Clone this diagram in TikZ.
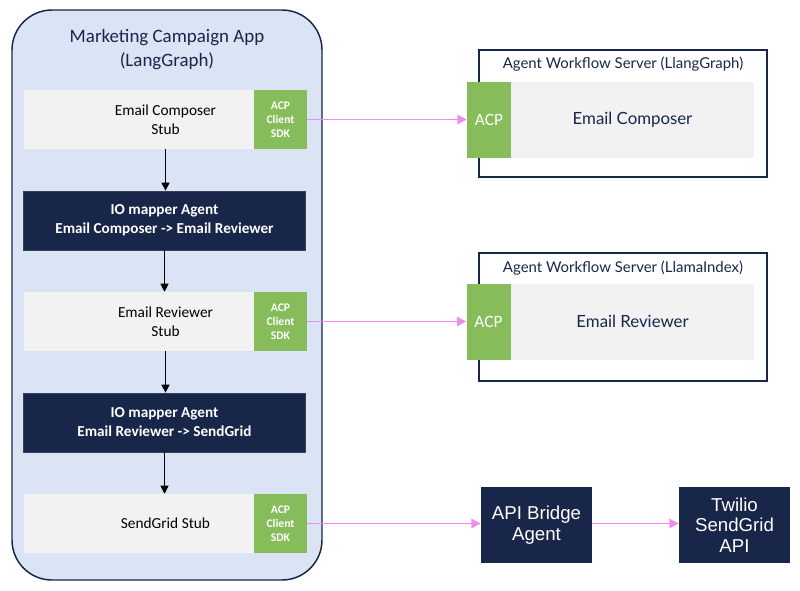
\documentclass[tikz,border=0pt]{standalone}
\usepackage{fontspec}
\setmainfont{Carlito}
\newfontfamily\latofont{Lato}
\newfontfamily\helvfont{Liberation Sans}
\usetikzlibrary{arrows.meta}
\definecolor{navy}{RGB}{24,38,74}
\definecolor{appbg}{RGB}{219,228,245}
\definecolor{acpgreen}{RGB}{134,188,90}
\definecolor{stubgray}{RGB}{242,242,242}
\definecolor{linkpink}{RGB}{240,140,240}
\tikzset{
  stub/.style={fill=stubgray,inner sep=0,minimum width=212.25pt,minimum height=44.25pt,align=center,font=\fontsize{11.5}{14.25}\selectfont},
  sdk/.style={fill=acpgreen,inner sep=0,minimum width=39.75pt,minimum height=44.25pt,align=center,text=white,font=\fontsize{8.75}{10.5}\selectfont\bfseries},
  mapper/.style={fill=navy,draw=navy!70!gray,line width=0.5pt,inner sep=0,minimum width=211.5pt,minimum height=44.25pt,align=center,text=white,font=\fontsize{11.4}{14.25}\selectfont\bfseries},
  acp/.style={fill=acpgreen,inner sep=0,minimum width=33pt,minimum height=57pt,text=white,font=\fontsize{13}{15}\selectfont},
  agent/.style={fill=stubgray,inner sep=0,minimum width=182.25pt,minimum height=57pt,text=navy,font=\latofont\fontsize{12.6}{15}\selectfont},
  api/.style={fill=navy,inner sep=0,minimum width=83.25pt,minimum height=57pt,align=center,text=white,font=\helvfont\fontsize{14}{15.5}\selectfont},
  flow/.style={-{Triangle[length=6pt,width=6pt]},black,line width=0.5pt},
  link/.style={-{Triangle[length=7pt,width=7pt]},linkpink,line width=1.1pt}
}
\begin{document}
\begin{tikzpicture}[x=0.75pt,y=-0.75pt]
\useasboundingbox (0,0) rectangle (800,590);
% app container
\draw[fill=appbg,draw=navy,line width=1.1pt,rounded corners=30pt] (12,10) rectangle (322,580);
\node[font=\fontsize{14.2}{18}\selectfont,align=center,text=navy] (apptitle) at (167,50) {Marketing Campaign App\\(LangGraph)};
% stubs and mappers
\node[stub] (s1) at (165.5,119.5) {Email Composer\\Stub};
\node[sdk] (g1) at (280.5,119.5) {ACP\\Client\\SDK};
\node[mapper] (m1) at (164.5,220.5) {IO mapper Agent\\Email Composer -> Email Reviewer};
\node[stub] (s2) at (165.5,321.5) {Email Reviewer\\Stub};
\node[sdk] (g2) at (280.5,321.5) {ACP\\Client\\SDK};
\node[mapper] (m2) at (164.5,422.5) {IO mapper Agent\\Email Reviewer -> SendGrid};
\node[stub] (s3) at (165.5,523.5) {SendGrid Stub};
\node[sdk] (g3) at (280.5,523.5) {ACP\\Client\\SDK};
\draw[flow] (s1.south) -- (s1.south |- m1.north);
\draw[flow] (m1.south) -- (m1.south |- s2.north);
\draw[flow] (s2.south) -- (s2.south |- m2.north);
\draw[flow] (m2.south) -- (m2.south |- s3.north);
% workflow servers
\draw[navy,line width=1.5pt] (479,50) rectangle (767,177);
\node[font=\latofont\fontsize{11.2}{13}\selectfont,text=navy] (t1) at (623,64) {Agent Workflow Server (LlangGraph)};
\node[agent] (a1) at (632.5,120) {Email Composer};
\node[acp] (c1) at (489,120) {ACP};
\draw[navy,line width=1.5pt] (479,253) rectangle (767,381);
\node[font=\latofont\fontsize{11.2}{13}\selectfont,text=navy] (t2) at (623,268) {Agent Workflow Server (LlamaIndex)};
\node[agent] (a2) at (632.5,321.5) {Email Reviewer};
\node[acp] (c2) at (488.5,321.5) {ACP};
% api bridge
\node[api] (bridge) at (536.5,525) {API Bridge\\Agent};
\node[api] (twilio) at (734.5,525) {Twilio\\SendGrid\\API};
\draw[link] (g1.east) -- (g1.east -| c1.west);
\draw[link] (g2.east) -- (g2.east -| c2.west);
\draw[link] (g3.east) -- (g3.east -| bridge.west);
\draw[link] (bridge.east |- g3.east) -- (g3.east -| twilio.west);
\end{tikzpicture}
\end{document}
